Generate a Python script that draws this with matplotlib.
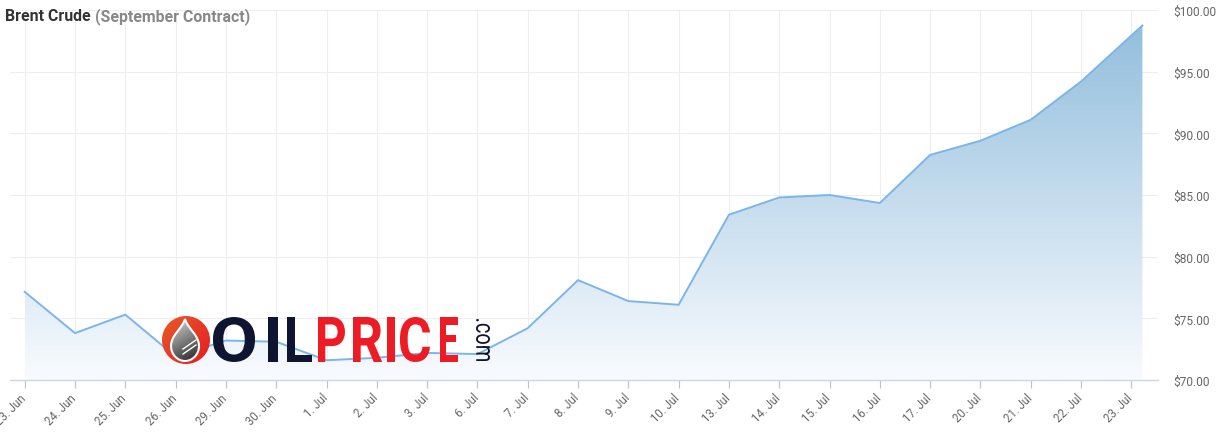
import matplotlib.pyplot as plt
import numpy as np
from matplotlib.patches import Polygon, Circle, PathPatch
from matplotlib.path import Path
from matplotlib.textpath import TextPath
from matplotlib.font_manager import FontProperties
from matplotlib.transforms import Affine2D, ScaledTranslation

plt.rcParams['font.family'] = ['Roboto', 'DejaVu Sans']

# Brent crude, September contract (USD per barrel)
dates = ["23. Jun", "24. Jun", "25. Jun", "26. Jun", "29. Jun", "30. Jun",
         "1. Jul", "2. Jul", "3. Jul", "6. Jul", "7. Jul", "8. Jul", "9. Jul",
         "10. Jul", "13. Jul", "14. Jul", "15. Jul", "16. Jul", "17. Jul",
         "20. Jul", "21. Jul", "22. Jul", "23. Jul"]
prices = [77.15, 73.80, 75.30, 71.90, 73.20, 73.10, 71.60, 71.80, 72.20,
          72.10, 74.20, 78.10, 76.40, 76.10, 83.40, 84.80, 85.00, 84.35,
          88.25, 89.40, 91.10, 94.20, 98.75]
# last quote is intraday, so it sits a bit past its day
last_offset = 0.22

y_ticks = [70, 75, 80, 85, 90, 95, 100]

W, H = 1229, 439
fig = plt.figure(figsize=(W / 100, H / 100), dpi=100)
ax = fig.add_axes([10 / W, 1 - 381 / H, 1148 / W, 370 / H])

x = np.arange(len(prices), dtype=float)
x[-1] += last_offset
y = np.array(prices)

ax.set_xlim(-0.292, 22.53)
ax.set_ylim(70, 100)

# gradient area under the line
verts = list(zip(x, y)) + [(x[-1], 70), (x[0], 70)]
poly = Polygon(verts, closed=True, facecolor="none", edgecolor="none")
ax.add_patch(poly)
top = np.array([143, 188, 220]) / 255
bottom = np.array([249, 251, 254]) / 255
t = np.linspace(0, 1, 256)[:, None]
grad = (top * (1 - t) + bottom * t)[:, None, :]
im = ax.imshow(grad, extent=[x[0], x[-1], 70, 100], aspect="auto",
               origin="upper", zorder=1, interpolation="bilinear")
im.set_clip_path(poly)

ax.plot(x, y, color="#7cb5ec", lw=1.4, zorder=3)

ax.set_xticks(np.arange(len(dates)))
ax.set_xticklabels(dates, rotation=45, ha="right", va="top",
                   fontsize=8.3, color="#666666")
ax.tick_params(axis="x", length=5.8, width=0.8, color="#c0c0c0", pad=2)
shift = ScaledTranslation(4 / 100, 0, fig.dpi_scale_trans)
for lab in ax.get_xticklabels():
    lab.set_transform(lab.get_transform() + shift)

ax.yaxis.tick_right()
ax.set_yticks(y_ticks)
ax.set_yticklabels([f"${v:.2f}" for v in y_ticks], fontsize=8.6, color="#666666")
ax.tick_params(axis="y", length=0, pad=11)

ax.grid(True, color="#eeeeee", lw=0.8, zorder=0)
ax.set_axisbelow(True)
for s in ["top", "left", "right"]:
    ax.spines[s].set_visible(False)
ax.spines["bottom"].set_color("#ccd6eb")
ax.spines["bottom"].set_linewidth(1)

# title
t1 = fig.text(5 / W, 1 - 16.5 / H, "Brent Crude", fontsize=11.4,
              fontweight="bold", color="#333333", va="center", ha="left")
ax.annotate(" (September Contract)", xy=(1, 0.5), xycoords=t1,
            fontsize=11.4, fontweight="bold", color="#888888",
            va="center", ha="left", annotation_clip=False)

# watermark logo, drawn in pixel coordinates
lx = fig.add_axes([0, 0, 1, 1], zorder=5)
lx.set_xlim(0, W)
lx.set_ylim(H, 0)
lx.axis("off")
lx.patch.set_alpha(0)


def fit_path(path, x0, y0, x1, y1, rot=0):
    p = path.transformed(Affine2D().rotate_deg(rot))
    ext = p.get_extents()
    sx = (x1 - x0) / ext.width
    sy = (y1 - y0) / ext.height
    tr = Affine2D().translate(-ext.x0, -ext.y1).scale(sx, -sy).translate(x0, y0)
    return p.transformed(tr)


fp = FontProperties(family="Roboto", weight="bold")
letters = [("O", 213, 255, "#0f1530"), ("I", 268, 278, "#0f1530"),
           ("L", 287, 312, "#0f1530"), ("P", 318, 345, "#ed1c24"),
           ("R", 353, 382, "#ed1c24"), ("I", 387, 395, "#ed1c24"),
           ("C", 400, 430, "#ed1c24"), ("E", 440, 458, "#ed1c24")]
for ch, a, b, c in letters:
    p = fit_path(TextPath((0, 0), ch, size=50, prop=fp), a, 318, b, 363)
    lx.add_patch(PathPatch(p, facecolor=c, edgecolor="none"))

fp2 = FontProperties(family="Roboto", weight="normal")
p = fit_path(TextPath((0, 0), ".com", size=50, prop=fp2), 476, 320, 490, 362, rot=-90)
lx.add_patch(PathPatch(p, facecolor="#0f1530", edgecolor="none"))

# red disc with grey drop
disc = Circle((186, 341), 24, facecolor="none", edgecolor="none")
lx.add_patch(disc)
yy, xx = np.mgrid[0:1:64j, 0:1:64j]
k = np.clip((xx + yy) / 2, 0, 1)[..., None]
red = np.array([232, 90, 40]) / 255 * (1 - k) + np.array([228, 28, 36]) / 255 * k
im2 = lx.imshow(red, extent=[162, 210, 365, 317], zorder=6)
im2.set_clip_path(disc)

drop = Path([(185, 320), (182, 330), (171, 336), (171, 347),
             (171, 356), (178, 362), (185, 362),
             (192, 362), (199, 356), (199, 347),
             (199, 336), (188, 330), (185, 320), (185, 320)],
            [Path.MOVETO] + [Path.CURVE4] * 12 + [Path.CLOSEPOLY])
dp = PathPatch(drop, facecolor="none", edgecolor="white", lw=1.5, zorder=8)
lx.add_patch(dp)
gk = np.clip(yy * 0.8 + xx * 0.3, 0, 1)[..., None]
gray = np.array([0.85, 0.85, 0.85]) * (1 - gk) + np.array([0.2, 0.2, 0.2]) * gk
im3 = lx.imshow(gray, extent=[171, 199, 362, 320], zorder=7)
im3.set_clip_path(dp)
for dy in (0, 5):
    lx.plot([183, 196], [350 + dy, 341 + dy], color="white", lw=1.0, zorder=9)

fig.savefig("out.png", dpi=100)
